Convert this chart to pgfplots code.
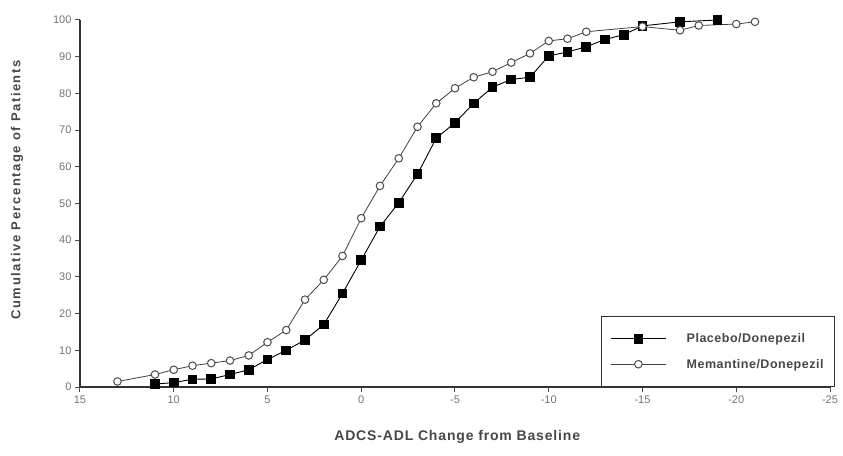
\documentclass[border=0pt]{standalone}
\usepackage{fontspec}
\setmainfont{Liberation Sans}
\usepackage{pgfplots}
\pgfplotsset{compat=1.18}
\definecolor{txt}{gray}{0.28}
\definecolor{tick}{gray}{0.45}
\begin{document}
\begin{tikzpicture}
\begin{axis}[
  name=ax,
  scale only axis, width=750pt, height=367pt,
  x dir=reverse, xmin=-25, xmax=15, ymin=0, ymax=100,
  xtick={15,10,...,-25}, ytick={0,10,...,100},
  axis x line*=bottom, axis y line*=left,
  x axis line style={line width=2.6pt, color=black!80},
  y axis line style={line width=1.3pt, color=black!80},
  tick align=outside, major tick length=5pt,
  tick style={line width=1pt, color=black!70},
  /pgf/number format/assume math mode=true,
  ticklabel style={font=\fontsize{11}{11}\selectfont, text=tick},
  xlabel={ADCS-ADL Change from Baseline},
  ylabel={Cumulative Percentage of Patients},
  xlabel style={at={(axis description cs:0.503,-0.136)}, anchor=center,
    font=\fontsize{14}{14}\selectfont\bfseries\addfontfeature{LetterSpace=6}, text=txt},
  ylabel style={at={(axis description cs:-0.084,0.537)}, anchor=center,
    font=\fontsize{13}{13}\selectfont\bfseries\addfontfeature{LetterSpace=12}, text=txt},
  legend style={at={(1.0067,0)}, anchor=south east, draw=black!80, line width=1pt,
    font=\fontsize{12.5}{12.5}\selectfont\bfseries\addfontfeature{LetterSpace=4}, text=txt, row sep=11pt,
    inner xsep=9pt, inner ysep=15pt, legend cell align=left,
    /tikz/every odd column/.append style={column sep=18pt}},
  legend image code/.code={\draw[mark repeat=2,mark phase=2] plot coordinates {(0cm,0cm) (0.98cm,0cm) (1.96cm,0cm)};},
]
\addplot[black, line width=0.9pt, mark=square*, mark size=4.3pt, mark options={fill=black, solid}]
coordinates {(11,0.8) (10,1.2) (9,2.1) (8,2.2) (7,3.4) (6,4.7) (5,7.5) (4,10) (3,12.8) (2,17) (1,25.5) (0,34.6) (-1,43.7) (-2,50.2) (-3,58) (-4,67.8) (-5,72) (-6,77.3) (-7,81.7) (-8,83.8) (-9,84.4) (-10,90.2) (-11,91.3) (-12,92.7) (-13,94.7) (-14,96) (-15,98.4) (-17,99.5) (-19,100)};
\addlegendentry{Placebo/Donepezil}
\addplot[black!75, line width=0.8pt, mark=*, mark size=3.8pt, mark options={fill=white, draw=black!70, line width=1pt}]
coordinates {(13,1.5) (11,3.4) (10,4.7) (9,5.8) (8,6.5) (7,7.2) (6,8.6) (5,12.2) (4,15.5) (3,23.8) (2,29.2) (1,35.7) (0,46) (-1,54.8) (-2,62.3) (-3,70.9) (-4,77.3) (-5,81.4) (-6,84.4) (-7,85.9) (-8,88.4) (-9,90.9) (-10,94.3) (-11,94.9) (-12,96.8) (-15,98.2) (-17,97.2) (-18,98.5) (-20,98.9) (-21,99.5)};
\addlegendentry{Memantine/Donepezil}
\end{axis}
\pgfresetboundingbox
\path[use as bounding box] ([xshift=-80pt,yshift=-68pt]ax.south west) rectangle ([xshift=13pt,yshift=20pt]ax.north east);
\end{tikzpicture}
\end{document}
